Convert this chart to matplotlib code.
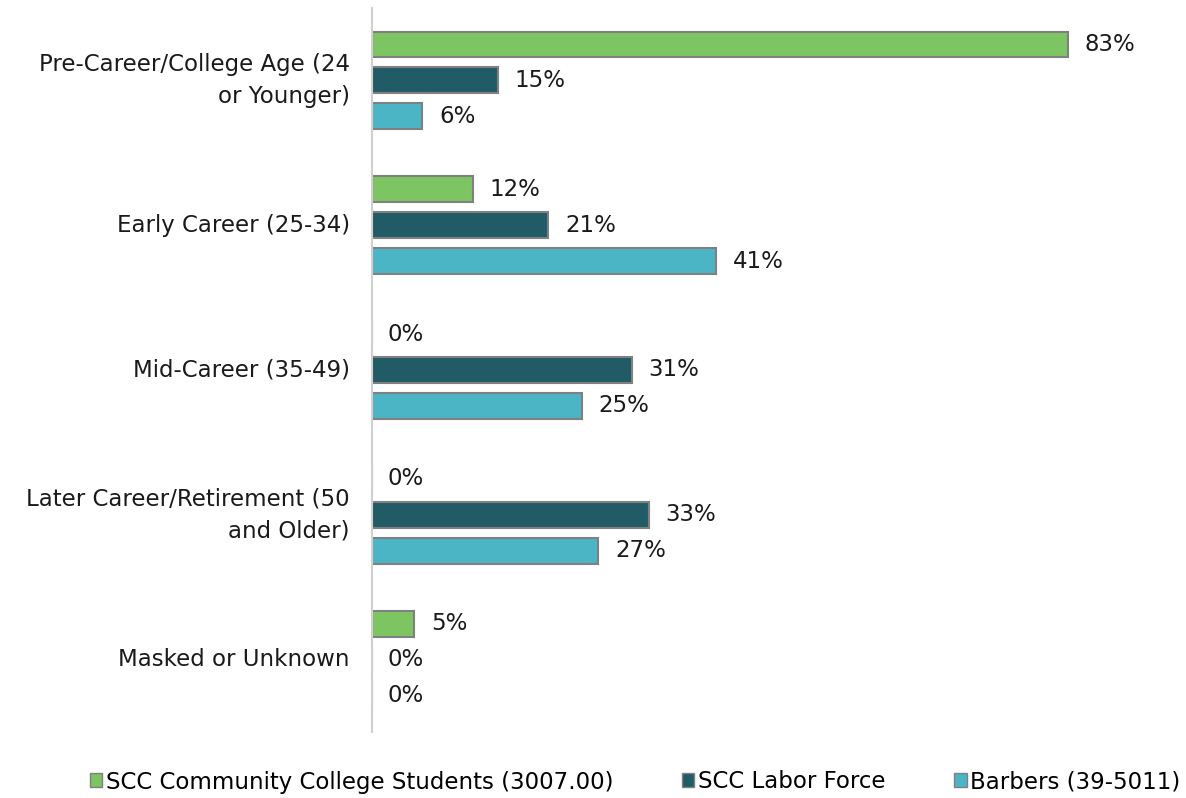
import matplotlib
matplotlib.use("Agg")
import matplotlib.pyplot as plt
import numpy as np
from matplotlib.patches import Patch

categories = ["Pre-Career/College Age (24\nor Younger)", "Early Career (25-34)", "Mid-Career (35-49)",
              "Later Career/Retirement (50\nand Older)", "Masked or Unknown"]
series_names = ["SCC Community College Students (3007.00)", "SCC Labor Force", "Barbers (39-5011)"]
students = [83, 12, 0, 0, 5]
labor = [15, 21, 31, 33, 0]
barbers = [6, 41, 25, 27, 0]
colors = ["#7DC462", "#215C66", "#4BB5C6"]

plt.rcParams['font.family'] = ['DejaVu Sans']

fig = plt.figure(figsize=(11.86, 7.98), dpi=100)
ax = fig.add_axes([372/1186, 1-732/798, (1180-372)/1186, (732-8)/798])

y = np.arange(len(categories))
offs = [-0.248, 0, 0.248]
h = 0.179
fs = 16.5
for vals, off, c in zip([students, labor, barbers], offs, colors):
    ax.barh(y + off, vals, height=h, color=c, edgecolor="#808080", linewidth=1.5)
    for yy, v in zip(y + off, vals):
        ax.text(v + (2.0 if v > 0 else 1.8), yy, f"{v}%", va="center", ha="left", fontsize=fs, color="#1a1a1a")

ax.set_ylim(4.5, -0.5)
ax.set_xlim(0, (1180-372)/8.386)
ax.set_yticks(y)
ax.set_yticklabels(categories, fontsize=fs, color="#1a1a1a", ha="right", va="center",
                   multialignment="right", linespacing=1.5)
ax.tick_params(axis="y", length=0, pad=16)
ax.set_xticks([])
for s in ["top", "right", "bottom"]:
    ax.spines[s].set_visible(False)
ax.spines["left"].set_color("#d0d0d0")
ax.spines["left"].set_linewidth(1.5)

handles = [Patch(facecolor=c, edgecolor="#808080", label=n) for c, n in zip(colors, series_names)]
fig.legend(handles=handles, loc="center", bbox_to_anchor=(635/1186, 1-782/798), ncol=3, frameon=False,
           fontsize=fs, handlelength=0.55, handleheight=0.55, handletextpad=0.15, columnspacing=3.0)

fig.savefig("out.png", dpi=100)
